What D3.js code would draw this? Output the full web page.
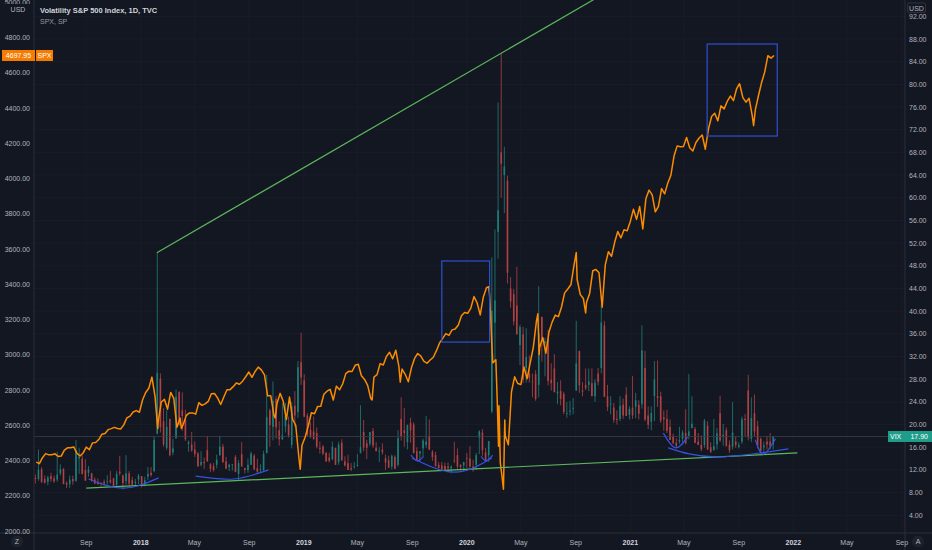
<!DOCTYPE html>
<html lang="en">
<head>
<meta charset="utf-8">
<title>VIX vs SPX</title>
<script src="https://d3js.org/d3.v7.min.js"></script>
<style>
  body { margin: 0; background: #131722; overflow: hidden; }
  text { font-family: "Liberation Sans", Arial, sans-serif; }
  .tick { fill: #b2b5be; font-size: 7px; }
  .year { fill: #d1d4dc; font-weight: bold; }
  .grid { stroke: #191d28; stroke-width: 1; }
  .trend { fill: none; stroke: #5cb85c; stroke-width: 1.2; }
  .box { fill: none; stroke: #2f4fd0; stroke-width: 1.2; }
  .arc { fill: none; stroke: #3553e6; stroke-width: 1.2; }
</style>
</head>
<body>
<div id="chart"></div>
<script>
// weekly bars, first one is the week ending on this Friday
const firstWeek = "2017-05-12";

// S&P 500 weekly closes
const spx2017 = [2391,2382,2416,2439,2432,2433,2438,2423,2425,2459,2472,2472,2477,2441,2426,2443,2476,2461,2500,2502,2519,2549,2553,2575,2581,2588,2582,2579,2602,2642,2652,2675,2683,2674];
const spx2018 = [2743,2786,2810,2873,2762,2620,2732,2747,2691,2786,2752,2588,2641,2604,2656,2670,2670,2663,2728,2713,2721,2735,2779,2780,2755,2718,2760,2801,2802,2819,2840,2833,2850,2875,2902,2872,2905,2930,2914,2886,2767,2768,2659,2723,2781,2736,2633,2760,2633,2600,2417,2486];
const spx2019 = [2532,2596,2671,2665,2707,2708,2776,2793,2804,2743,2822,2801,2834,2893,2907,2905,2940,2946,2881,2860,2826,2752,2873,2887,2950,2942,2990,3014,2977,3026,2932,2919,2889,2847,2926,2979,3007,2992,2962,2952,2970,2986,3023,3067,3093,3120,3110,3141,3146,3169,3221,3240];
const spx2020 = [3235,3265,3330,3295,3226,3328,3380,3338,2954,2972,2711,2305,2541,2489,2790,2875,2837,2831,2930,2864,2955,3044,3194,3041,3098,3009,3130,3185,3225,3216,3271,3351,3373,3397,3508,3427,3341,3319,3298,3348,3477,3484,3465,3270,3510,3585,3558,3638,3699,3663,3709,3703,3756];
const spx2021 = [3825,3768,3841,3714,3887,3934,3907,3811,3842,3943,3913,3975,4020,4129,4185,4180,4181,4233,4174,4156,4204,4230,4247,4166,4281,4352,4370,4327,4412,4395,4437,4468,4442,4509,4535,4459,4433,4455,4357,4391,4471,4545,4605,4697,4683,4697.95];
// daily closes kept for the sharp turns inside a week
const spxDaily = [
  ["2018-02-08",2581],["2018-04-02",2582],["2018-10-29",2641],["2018-12-24",2351],
  ["2019-06-03",2744],["2019-08-05",2845],["2020-02-19",3386],["2020-03-09",2747],
  ["2020-03-12",2481],["2020-03-16",2386],["2020-03-23",2237],["2020-03-26",2630],
  ["2020-06-08",3232],["2020-06-11",3002],["2020-09-02",3580],["2020-09-23",3237],
  ["2021-09-02",4537],["2021-10-04",4300]
];

// VIX weekly [open, high, low, close]
const vix2017 = [[10.6,11.2,9.6,10.4],[10.4,15.6,10.1,12.0],[12.1,12.5,9.8,9.8],[10.4,11.0,9.6,9.75],[9.9,11.0,9.3,10.7],[10.9,11.5,9.9,10.4],[10.5,11.0,9.7,10.0],[10.3,15.2,9.9,11.2],[11.4,13.0,11.0,12.1],[12.2,12.3,9.5,9.5],[9.7,10.0,8.8,9.4],[9.5,11.0,8.84,10.3],[10.4,11.0,9.4,10.0],[10.1,17.3,9.9,15.5],[14.0,15.9,11.3,14.3],[14.0,14.6,11.2,11.3],[12.0,13.9,10.1,10.1],[11.5,12.7,10.8,12.1],[11.4,11.5,9.9,10.2],[10.3,10.7,9.5,9.6],[9.9,10.5,9.4,9.5],[9.7,9.9,9.1,9.65],[9.9,10.3,9.2,9.6],[9.9,11.1,9.4,9.97],[10.2,11.8,9.6,9.8],[10.5,10.6,9.1,9.1],[9.4,11.8,9.2,11.3],[11.7,14.5,11.0,11.4],[11.0,11.2,8.56,9.7],[10.0,14.6,9.4,11.4],[11.4,11.8,9.2,9.6],[10.2,10.8,9.4,9.4],[9.7,10.4,9.3,9.9],[10.3,11.3,9.5,11.0]];
const vix2018 = [[10.9,10.9,8.9,9.2],[9.5,10.8,9.1,10.2],[10.8,12.5,10.2,11.3],[11.5,12.5,10.8,11.1],[11.8,17.9,11.6,17.3],[18.4,50.3,18.3,29.1],[28.1,29.0,18.6,19.5],[20.6,22.9,16.1,16.5],[15.9,22.5,15.5,19.6],[21.0,21.0,14.4,14.6],[15.1,17.5,14.6,15.8],[17.6,26.2,17.5,24.9],[25.8,25.8,19.8,19.97],[22.5,25.7,18.9,21.5],[20.9,22.6,17.1,17.4],[16.6,17.2,15.2,16.9],[16.5,18.7,15.2,15.4],[15.6,17.0,14.3,14.8],[14.9,15.2,12.6,12.6],[12.9,15.3,12.6,13.4],[13.4,14.2,12.2,13.2],[15.5,18.0,13.5,13.5],[13.0,13.2,11.6,12.2],[12.7,13.2,11.7,11.98],[12.9,14.7,12.3,13.8],[14.6,18.0,14.5,16.1],[16.1,16.6,13.2,13.4],[13.5,14.3,12.2,12.2],[12.5,13.1,11.8,12.9],[12.9,13.0,11.9,13.0],[14.3,14.6,11.7,11.6],[11.3,13.7,10.2,13.2],[14.8,16.9,12.6,12.6],[12.3,12.4,11.4,11.99],[12.0,14.0,11.5,12.9],[12.9,15.2,12.9,14.9],[14.5,14.8,12.0,12.1],[12.3,14.0,11.3,11.7],[12.0,13.0,11.5,12.1],[12.0,15.4,11.6,14.8],[15.0,28.8,14.9,21.3],[22.5,22.8,16.1,19.9],[19.6,27.6,17.2,24.2],[24.5,25.0,17.5,19.5],[19.0,20.6,16.3,17.4],[17.4,23.8,17.3,18.1],[19.7,23.8,18.6,21.5],[20.0,21.4,17.7,18.1],[16.4,24.0,15.8,23.2],[23.3,25.9,19.6,21.6],[22.2,31.2,21.2,30.1],[31.0,36.2,27.0,28.3]];
const vix2019 = [[27.8,28.9,21.3,21.4],[21.6,22.0,17.9,18.2],[19.1,20.4,17.6,17.8],[18.8,21.4,17.4,17.4],[18.5,19.5,15.8,16.1],[15.9,17.0,14.9,15.7],[16.1,16.4,14.6,14.9],[15.0,15.2,13.4,13.5],[14.2,15.0,13.3,13.6],[13.9,17.0,13.7,16.1],[15.9,15.9,12.9,12.9],[13.4,17.0,12.9,16.5],[16.8,17.4,13.6,13.7],[13.5,14.4,12.6,12.8],[13.2,14.7,12.0,12.0],[12.3,13.2,11.8,12.1],[12.7,13.4,12.2,12.7],[12.7,14.8,12.6,12.9],[15.0,23.4,14.9,16.0],[18.7,20.8,15.3,15.96],[16.7,17.3,13.9,15.9],[16.6,18.7,16.2,18.7],[18.9,19.4,15.9,16.3],[15.9,16.9,15.3,15.3],[15.3,16.0,13.4,15.4],[15.6,16.7,14.7,15.1],[14.1,14.7,12.0,13.3],[13.7,14.5,12.4,12.4],[12.6,14.7,12.1,14.5],[14.3,14.6,12.2,12.2],[12.9,19.0,12.6,17.6],[21.0,24.8,17.2,17.97],[19.0,22.9,16.1,18.5],[16.9,20.0,15.6,19.9],[20.3,21.2,16.8,18.98],[20.0,20.4,14.9,15.0],[15.3,16.0,13.7,13.7],[14.9,15.3,13.5,15.3],[15.8,17.5,14.4,17.2],[16.4,21.5,15.9,17.0],[17.9,20.9,15.5,15.6],[15.2,15.5,13.6,14.25],[14.6,15.2,12.6,12.65],[12.9,13.4,12.3,12.3],[12.8,13.4,12.1,12.07],[12.7,13.3,11.9,12.05],[12.6,13.3,11.5,12.3],[12.3,12.8,11.4,12.6],[13.7,17.0,13.2,13.6],[14.6,15.8,12.2,12.6],[12.9,13.0,11.9,12.5],[12.8,13.4,11.8,13.4]];
const vix2020 = [[14.1,15.0,12.4,14.0],[14.0,16.2,12.4,12.6],[12.6,13.8,11.7,12.1],[12.9,15.0,12.0,14.6],[17.7,19.0,14.8,18.8],[18.6,19.2,14.5,15.5],[15.1,15.9,13.5,13.7],[14.6,17.1,13.4,17.1],[22.3,49.5,22.0,40.1],[38.0,54.4,31.0,41.9],[54.0,76.8,49.3,57.8],[68.0,85.5,60.0,66.0],[64.0,69.0,57.3,65.5],[63.0,63.9,44.9,46.8],[44.0,46.0,40.6,41.7],[43.0,43.9,37.5,38.2],[41.0,47.8,38.8,35.9],[34.0,37.6,30.5,37.2],[35.9,37.2,27.3,27.98],[30.0,37.0,27.4,31.9],[29.0,32.2,27.4,28.2],[27.6,29.0,24.8,27.5],[28.9,29.6,24.2,24.5],[27.0,44.4,24.8,36.1],[39.0,39.0,31.1,35.1],[34.3,35.3,28.5,34.7],[35.0,36.7,26.9,27.7],[27.9,30.8,26.0,27.3],[29.9,32.4,26.0,25.7],[25.5,27.5,23.6,25.8],[25.9,27.8,23.4,24.5],[25.4,25.8,21.8,22.2],[22.0,24.0,21.2,22.05],[22.3,24.2,21.6,22.5],[22.8,24.7,21.8,22.96],[26.0,38.3,26.0,30.8],[33.0,33.0,25.6,26.9],[26.0,27.5,25.0,25.8],[27.0,29.9,26.1,26.4],[27.0,29.9,25.9,27.6],[27.3,29.9,25.0,25.0],[25.0,28.0,24.0,27.4],[29.0,30.0,26.9,27.55],[30.0,41.2,29.0,38.0],[37.5,38.3,24.9,24.9],[25.0,27.0,22.4,23.1],[23.6,25.0,21.8,23.7],[23.0,23.8,20.3,20.8],[21.0,22.5,20.0,20.8],[21.0,25.0,20.6,23.3],[23.5,24.6,21.0,21.6],[25.3,26.6,21.5,21.5],[21.7,23.2,20.9,22.75]];
const vix2021 = [[23.0,28.6,21.0,21.6],[23.1,25.6,21.1,24.3],[23.5,24.3,20.9,21.9],[23.6,37.5,22.8,33.1],[30.0,33.0,20.6,20.9],[21.6,23.2,19.2,19.97],[20.5,23.2,19.0,22.05],[25.0,31.2,20.6,27.95],[25.0,31.3,23.1,24.7],[25.0,25.8,20.3,20.7],[21.3,22.5,18.9,20.95],[21.0,22.6,18.5,18.9],[19.6,20.9,17.3,17.3],[17.9,18.4,16.6,16.7],[16.8,17.6,15.9,16.25],[17.0,19.6,16.6,17.3],[17.5,19.0,16.9,18.6],[18.5,22.7,16.5,16.7],[18.0,28.9,17.4,18.8],[19.4,25.0,19.3,20.15],[19.2,19.6,16.7,16.8],[17.0,18.5,16.5,16.4],[16.4,18.1,15.3,15.65],[16.4,21.0,15.9,20.7],[19.8,20.6,15.5,15.6],[16.0,16.9,15.1,15.1],[15.5,21.0,15.4,16.2],[16.5,19.4,15.6,18.45],[22.0,25.1,16.9,17.2],[18.0,20.1,16.3,18.2],[19.0,19.5,16.5,16.15],[16.5,17.2,15.0,15.45],[16.1,24.0,15.6,18.6],[17.0,17.9,15.9,16.4],[16.1,16.9,15.8,16.4],[17.0,21.4,16.6,20.95],[21.0,21.9,18.0,20.8],[26.0,28.8,17.2,17.75],[17.5,24.8,16.9,21.15],[22.0,25.3,18.0,18.8],[19.7,20.7,15.8,16.3],[17.5,17.7,14.9,15.4],[16.0,17.0,15.0,16.3],[17.0,18.0,15.6,16.5],[17.0,18.5,15.6,16.3],[16.5,18.0,15.6,17.9]];

const vixLast = 17.90;
const spxLast = 4697.95;

// drawings on the chart, [date, value]
const upperTrend = [["2018-02-06", 50.3], ["2020-03-18", 85.5]];   // VIX scale, extended right
const lowerTrend = [["2017-09-01", 8.8], ["2022-01-10", 15.0]];    // VIX scale
const boxes = [
  [["2019-11-06", 3532], ["2020-02-21", 3072]],                    // SPX scale
  [["2021-06-22", 4763], ["2021-11-26", 4241]]
];
const arcs = [
  [["2017-09-06",10.4],["2017-11-24",8.8],["2018-02-10",10.6]],
  [["2018-05-04",10.9],["2018-07-28",10.4],["2018-10-14",12.0]],
  [["2019-08-31",14.1],["2019-12-05",11.6],["2020-02-26",14.1]],
  [["2019-08-29",14.6],["2019-09-12",13.6],["2019-09-26",14.4]],
  [["2020-02-02",14.4],["2020-02-14",13.6],["2020-02-28",14.6]],
  [["2021-03-16",18.5],["2021-04-12",15.9],["2021-05-09",17.8]],
  [["2021-03-27",15.9],["2021-07-10",14.3],["2021-12-21",15.7]],
  [["2021-10-08",17.3],["2021-10-26",14.8],["2021-11-22",17.5]]
];

const leftTicks = d3.range(2000, 5001, 200);
const rightTicks = d3.range(4, 93, 4);
const monthNames = ["Jan","Feb","Mar","Apr","May","Jun","Jul","Aug","Sep","Oct","Nov","Dec"];

const width = 932, height = 550;
const paneL = 34, paneR = 905, paneB = 533;
const parse = d3.timeParse("%Y-%m-%d");

const x = d3.scaleTime().domain([new Date(2017, 4, 7), new Date(2022, 8, 8)]).range([paneL, paneR]);
const yV = d3.scaleLinear().domain([4, 88]).range([515.3, 39]);
const yS = d3.scaleLinear().domain([2000, 4800]).range([531, 37.5]);

const svg = d3.select("#chart").append("svg").attr("width", width).attr("height", height);
svg.append("rect").attr("width", width).attr("height", height).attr("fill", "#131722");

svg.append("defs").append("clipPath").attr("id", "pane")
  .append("rect").attr("x", paneL).attr("y", 0).attr("width", paneR - paneL).attr("height", paneB);

const timeTicks = d3.timeMonths(new Date(2017, 8, 1), new Date(2022, 9, 1), 4);

// grid
const grid = svg.append("g").attr("clip-path", "url(#pane)");
grid.selectAll("line.h").data(rightTicks).enter().append("line").attr("class", "grid")
  .attr("x1", paneL).attr("x2", paneR).attr("y1", d => yV(d)).attr("y2", d => yV(d));
grid.selectAll("line.v").data(timeTicks).enter().append("line").attr("class", "grid")
  .attr("x1", d => x(d)).attr("x2", d => x(d)).attr("y1", 0).attr("y2", paneB);

const plot = svg.append("g").attr("clip-path", "url(#pane)");

// VIX candles
const vixWeeks = [].concat(vix2017, vix2018, vix2019, vix2020, vix2021).map((d, i) => ({
  date: d3.timeDay.offset(parse(firstWeek), 7 * i - 2),
  o: d[0], h: d[1], l: d[2], c: d[3]
}));
const candle = plot.append("g").selectAll("g").data(vixWeeks).enter().append("g")
  .attr("opacity", 0.72);
candle.append("line")
  .attr("x1", d => x(d.date)).attr("x2", d => x(d.date))
  .attr("y1", d => yV(d.h)).attr("y2", d => yV(d.l))
  .attr("stroke", d => d.c >= d.o ? "#26a69a" : "#ef5350").attr("stroke-width", 0.8);
candle.append("rect")
  .attr("x", d => x(d.date) - 0.8).attr("width", 1.6)
  .attr("y", d => yV(Math.max(d.o, d.c)))
  .attr("height", d => Math.max(0.8, Math.abs(yV(d.o) - yV(d.c))))
  .attr("fill", d => d.c >= d.o ? "#26a69a" : "#ef5350");

// VIX last price line
plot.append("line").attr("x1", paneL).attr("x2", paneR)
  .attr("y1", yV(vixLast)).attr("y2", yV(vixLast))
  .attr("stroke", "#3b3f4c").attr("stroke-width", 0.8);

// SPX line
const spxPoints = [].concat(spx2017, spx2018, spx2019, spx2020, spx2021)
  .map((v, i) => ({ date: d3.timeDay.offset(parse(firstWeek), 7 * i), v: v }))
  .concat(spxDaily.map(d => ({ date: parse(d[0]), v: d[1] })))
  .sort((a, b) => a.date - b.date);
plot.append("path").datum(spxPoints)
  .attr("fill", "none").attr("stroke", "#fb8c00").attr("stroke-width", 1.5)
  .attr("stroke-linejoin", "round")
  .attr("d", d3.line().x(d => x(d.date)).y(d => yS(d.v)));

// trend lines
const ut = upperTrend.map(d => [x(parse(d[0])), yV(d[1])]);
const ext = [ut[0], [ut[0][0] + 3 * (ut[1][0] - ut[0][0]), ut[0][1] + 3 * (ut[1][1] - ut[0][1])]];
plot.append("path").attr("class", "trend").attr("d", d3.line()(ext));
plot.append("path").attr("class", "trend")
  .attr("d", d3.line()(lowerTrend.map(d => [x(parse(d[0])), yV(d[1])])));

// boxes
plot.selectAll("rect.box").data(boxes).enter().append("rect").attr("class", "box")
  .attr("x", d => x(parse(d[0][0]))).attr("y", d => yS(d[0][1]))
  .attr("width", d => x(parse(d[1][0])) - x(parse(d[0][0])))
  .attr("height", d => yS(d[1][1]) - yS(d[0][1]));

// arcs
const arcLine = d3.line().curve(d3.curveNatural).x(d => x(parse(d[0]))).y(d => yV(d[1]));
plot.selectAll("path.arc").data(arcs).enter().append("path").attr("class", "arc").attr("d", arcLine);

// pane borders
svg.append("line").attr("x1", paneL).attr("x2", paneL).attr("y1", 0).attr("y2", height).attr("stroke", "#2a2e39");
svg.append("line").attr("x1", paneR).attr("x2", paneR).attr("y1", 0).attr("y2", height).attr("stroke", "#2a2e39");
svg.append("line").attr("x1", 0).attr("x2", width).attr("y1", paneB).attr("y2", paneB).attr("stroke", "#2a2e39");

// left axis (SPX)
svg.append("g").selectAll("text").data(leftTicks).enter().append("text").attr("class", "tick")
  .attr("x", 30).attr("y", d => yS(d) + 2.5).attr("text-anchor", "end")
  .text(d => d3.format(".2f")(d));
// right axis (VIX)
svg.append("g").selectAll("text").data(rightTicks).enter().append("text").attr("class", "tick")
  .attr("x", 909).attr("y", d => yV(d) + 2.5)
  .text(d => d3.format(".2f")(d));
// time axis
svg.append("g").selectAll("text").data(timeTicks).enter().append("text")
  .attr("class", d => d.getMonth() === 0 ? "tick year" : "tick")
  .attr("x", d => x(d)).attr("y", 544.5).attr("text-anchor", "middle")
  .text(d => d.getMonth() === 0 ? d.getFullYear() : monthNames[d.getMonth()]);

// currency tags
svg.append("rect").attr("x", 5).attr("y", 4).attr("width", 26).attr("height", 10).attr("fill", "#131722");
svg.append("text").attr("class", "tick").attr("x", 18).attr("y", 11.5).attr("text-anchor", "middle").text("USD");
svg.append("rect").attr("x", 907.5).attr("y", 3).attr("width", 18).attr("height", 9.5).attr("rx", 1.5)
  .attr("fill", "#131722").attr("stroke", "#434651").attr("stroke-width", 0.6);
svg.append("text").attr("class", "tick").attr("x", 916.5).attr("y", 10.5).attr("text-anchor", "middle").text("USD");

// last value labels
const sy = yS(spxLast);
svg.append("rect").attr("x", 2).attr("y", sy - 5.5).attr("width", 33).attr("height", 11).attr("fill", "#f57c00");
svg.append("text").attr("x", 18.5).attr("y", sy + 2.5).attr("text-anchor", "middle")
  .attr("fill", "#ffffff").attr("font-size", 7).text(d3.format(".2f")(spxLast));
svg.append("rect").attr("x", 36).attr("y", sy - 5.5).attr("width", 17).attr("height", 11).attr("fill", "#f57c00");
svg.append("text").attr("x", 44.5).attr("y", sy + 2.5).attr("text-anchor", "middle")
  .attr("fill", "#ffffff").attr("font-size", 7).text("SPX");

const vy = yV(vixLast);
svg.append("rect").attr("x", 888).attr("y", vy - 5.5).attr("width", 44).attr("height", 11).attr("fill", "#1f9d8b");
svg.append("text").attr("x", 890).attr("y", vy + 2.5).attr("fill", "#ffffff").attr("font-size", 7).text("VIX");
svg.append("text").attr("x", 928).attr("y", vy + 2.5).attr("text-anchor", "end")
  .attr("fill", "#ffffff").attr("font-size", 7).text(d3.format(".2f")(vixLast));

// legend
svg.append("text").attr("x", 40).attr("y", 13).attr("fill", "#d1d4dc").attr("font-size", 7.5)
  .attr("font-weight", "bold").text("Volatility S&P 500 Index, 1D, TVC");
svg.append("text").attr("x", 40).attr("y", 23.5).attr("fill", "#9598a1").attr("font-size", 7).text("SPX, SP");

// corner buttons
[[17, "Z"], [918, "A"]].forEach(b => {
  svg.append("circle").attr("cx", b[0]).attr("cy", 541.5).attr("r", 6).attr("fill", "#1e222d");
  svg.append("text").attr("class", "tick").attr("x", b[0]).attr("y", 544).attr("text-anchor", "middle").text(b[1]);
});
</script>
</body>
</html>
